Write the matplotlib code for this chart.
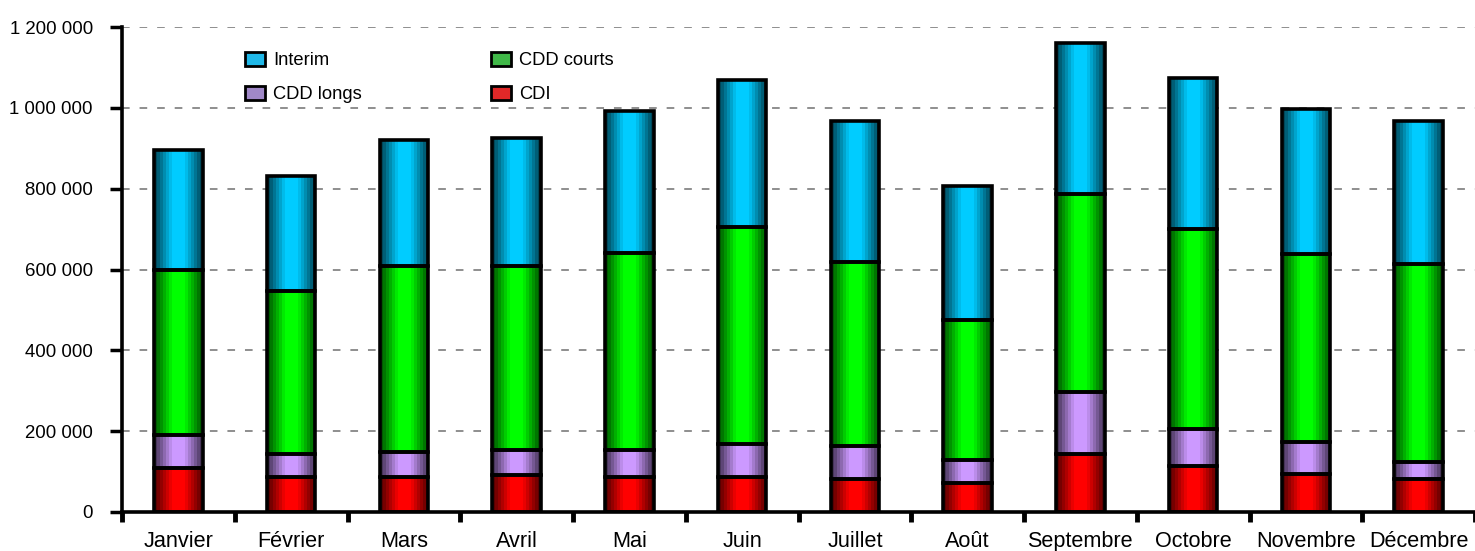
import numpy as np
import matplotlib.pyplot as plt
from matplotlib.patches import Patch

plt.rcParams['font.family'] = ['Liberation Sans', 'DejaVu Sans']

mois = ['Janvier', 'Février', 'Mars', 'Avril', 'Mai', 'Juin', 'Juillet',
        'Août', 'Septembre', 'Octobre', 'Novembre', 'Décembre']

# cumulative levels of each stack (CDI, + CDD longs, + CDD courts, + Interim)
cumul_cdi = [109000, 87000, 87000, 92000, 87000, 87000, 82000, 72000, 144000, 114000, 94000, 82000]
cumul_longs = [190000, 143000, 148000, 153000, 153000, 168000, 163000, 129000, 297000, 205000, 173000, 124000]
cumul_courts = [598000, 547000, 609000, 609000, 641000, 705000, 619000, 475000, 787000, 700000, 638000, 614000]
cumul_total = [895000, 831000, 920000, 925000, 992000, 1069000, 967000, 806000, 1160000, 1074000, 997000, 967000]

cdi = np.array(cumul_cdi)
cdd_longs = np.array(cumul_longs) - np.array(cumul_cdi)
cdd_courts = np.array(cumul_courts) - np.array(cumul_longs)
interim = np.array(cumul_total) - np.array(cumul_courts)

series = [
    ('CDI', cdi, (1.0, 0.0, 0.0), '#e02828'),
    ('CDD longs', cdd_longs, (0.80, 0.60, 1.0), '#a088c8'),
    ('CDD courts', cdd_courts, (0.0, 1.0, 0.0), '#40b848'),
    ('Interim', interim, (0.0, 0.80, 1.0), '#20b8e8'),
]

fig = plt.figure(figsize=(14.75, 5.51), dpi=100)
ax = fig.add_axes([122 / 1475, 1 - 512 / 551, 1 - 122 / 1475, (512 - 27) / 551])

x = np.arange(len(mois))
width = 0.43

# horizontal shading profile across each bar, in bands
t = np.linspace(0, 1, 16)
shade = np.interp(t, [0, 0.38, 0.62, 1.0], [0.35, 1.0, 1.0, 0.35])

bottom = np.zeros(len(mois))
for name, vals, base, _ in series:
    bars = ax.bar(x, vals, width, bottom=bottom, facecolor='none',
                  edgecolor='black', linewidth=2.6, zorder=3)
    grad = np.array(base)[None, None, :] * shade[None, :, None]
    for rect in bars:
        x0, y0 = rect.get_x(), rect.get_y()
        ax.imshow(grad, extent=(x0, x0 + rect.get_width(), y0, y0 + rect.get_height()),
                  aspect='auto', interpolation='nearest', zorder=2)
    bottom += vals

ax.set_xlim(-0.5, len(mois) - 0.5)
ax.set_ylim(0, 1200000)

yt = np.arange(0, 1200001, 200000)
ax.set_yticks(yt)
ax.set_yticklabels(['{:,}'.format(v).replace(',', ' ') for v in yt], fontsize=13.4)
ax.tick_params(axis='y', length=9, width=2.5, pad=12)

ax.set_xticks(np.arange(-0.5, len(mois), 1.0))
ax.set_xticklabels([])
ax.set_xticks(x, minor=True)
ax.set_xticklabels(mois, minor=True, fontsize=15.6)
ax.tick_params(axis='x', which='major', length=7, width=3.5, direction='out')
ax.tick_params(axis='x', which='minor', length=0, pad=14)

for s in ['top', 'right']:
    ax.spines[s].set_visible(False)
ax.spines['left'].set_linewidth(2.6)
ax.spines['bottom'].set_linewidth(2.6)

ax.yaxis.grid(True, linestyle=(0, (5, 6.5)), color='#707070', linewidth=1.1, zorder=1)
ax.set_axisbelow(True)

order = [3, 1, 2, 0]
handles = [Patch(facecolor=series[i][3], edgecolor='black', linewidth=2) for i in order]
labels = [series[i][0] for i in order]
fig.legend(handles, labels, ncol=2, frameon=False, fontsize=13.2,
           loc='upper left', bbox_to_anchor=(245 / 1475, 1 - 52 / 551),
           bbox_transform=fig.transFigure, borderpad=0, borderaxespad=0,
           handlelength=1.1, handleheight=0.8, handletextpad=0.45,
           columnspacing=7.0, labelspacing=0.88)

fig.savefig('out.png', dpi=100)
